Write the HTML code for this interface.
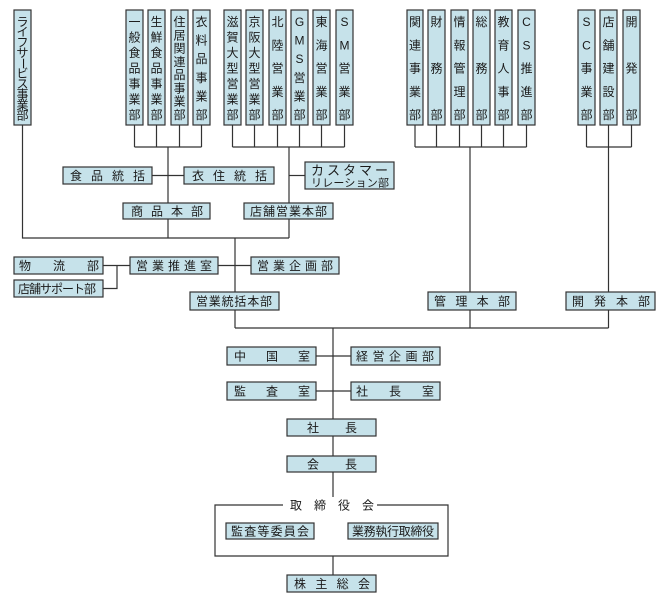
<!DOCTYPE html>
<html><head><meta charset="utf-8"><style>
html,body{margin:0;padding:0;background:#fff;}
svg{display:block;}
text{font-family:"Liberation Sans","Noto Sans CJK JP",sans-serif;font-size:12px;fill:#1a1a1a;}
.v text{text-anchor:middle;}
rect{fill:#c6e2ea;stroke:#333;stroke-width:1.2;}
line,polyline{stroke:#333;stroke-width:1.2;fill:none;}
</style></head><body>
<svg width="668" height="603" viewBox="0 0 668 603" xmlns="http://www.w3.org/2000/svg">
<polyline points="22.5,125 22.5,238 289,238"/>
<line x1="134.5" y1="125" x2="134.5" y2="147"/><line x1="156.5" y1="125" x2="156.5" y2="147"/>
<line x1="179.5" y1="125" x2="179.5" y2="147"/><line x1="201.5" y1="125" x2="201.5" y2="147"/>
<line x1="134.5" y1="147" x2="201.5" y2="147"/>
<line x1="168" y1="147" x2="168" y2="238"/>
<line x1="152" y1="175.5" x2="184" y2="175.5"/>
<line x1="232.5" y1="125" x2="232.5" y2="147"/><line x1="254.5" y1="125" x2="254.5" y2="147"/>
<line x1="277.5" y1="125" x2="277.5" y2="147"/><line x1="299.5" y1="125" x2="299.5" y2="147"/>
<line x1="321.5" y1="125" x2="321.5" y2="147"/><line x1="344.5" y1="125" x2="344.5" y2="147"/>
<line x1="232.5" y1="147" x2="344.5" y2="147"/>
<line x1="289" y1="147" x2="289" y2="238"/>
<line x1="289" y1="175.5" x2="305" y2="175.5"/>
<line x1="235" y1="238" x2="235" y2="328"/>
<line x1="218" y1="265.5" x2="251" y2="265.5"/>
<polyline points="103,265.5 130,265.5"/>
<polyline points="117,265.5 117,288.5 103,288.5"/>
<line x1="235" y1="328" x2="608.5" y2="328"/>
<line x1="415" y1="125" x2="415" y2="147"/><line x1="436.5" y1="125" x2="436.5" y2="147"/>
<line x1="459.5" y1="125" x2="459.5" y2="147"/><line x1="481.5" y1="125" x2="481.5" y2="147"/>
<line x1="503.5" y1="125" x2="503.5" y2="147"/><line x1="526.5" y1="125" x2="526.5" y2="147"/>
<line x1="415" y1="147" x2="526.5" y2="147"/>
<line x1="470" y1="147" x2="470" y2="328"/>
<line x1="586.5" y1="125" x2="586.5" y2="147"/><line x1="608.5" y1="125" x2="608.5" y2="147"/>
<line x1="631.5" y1="125" x2="631.5" y2="147"/>
<line x1="586.5" y1="147" x2="631.5" y2="147"/>
<line x1="608.5" y1="147" x2="608.5" y2="328"/>
<line x1="333" y1="328" x2="333" y2="497"/>
<line x1="316" y1="356" x2="351" y2="356"/>
<line x1="316" y1="391" x2="351" y2="391"/>
<polyline points="283,505 215,505 215,556 448,556 448,505 377,505"/>
<line x1="333" y1="556" x2="333" y2="575"/>

<g class="v">
<rect x="14" y="10" width="17" height="115"/>
<g style="font-size:10px">
<text x="22.5" y="26">ラ</text><text x="22.5" y="36">イ</text><text x="22.5" y="46.5">フ</text><text x="22.5" y="57">サ</text><text x="22.5" y="67" transform="rotate(90 22.5 63.5)">ー</text><text x="22.5" y="77.5">ビ</text><text x="22.5" y="88">ス</text><text x="22.5" y="98.5">事</text><text x="22.5" y="109">業</text><text x="22.5" y="119.5">部</text>
</g>
<rect x="126" y="10" width="17" height="115"/>
<text x="134.5" y="26">一</text><text x="134.5" y="41.5">般</text><text x="134.5" y="57">食</text><text x="134.5" y="72.5">品</text><text x="134.5" y="88">事</text><text x="134.5" y="103.5">業</text><text x="134.5" y="119">部</text>
<rect x="148" y="10" width="17" height="115"/>
<text x="156.5" y="26">生</text><text x="156.5" y="41.5">鮮</text><text x="156.5" y="57">食</text><text x="156.5" y="72.5">品</text><text x="156.5" y="88">事</text><text x="156.5" y="103.5">業</text><text x="156.5" y="119">部</text>
<rect x="171" y="10" width="17" height="115"/>
<text x="179.5" y="26">住</text><text x="179.5" y="39.3">居</text><text x="179.5" y="52.6">関</text><text x="179.5" y="65.9">連</text><text x="179.5" y="79.1">品</text><text x="179.5" y="92.4">事</text><text x="179.5" y="105.7">業</text><text x="179.5" y="119">部</text>
<rect x="193" y="10" width="17" height="115"/>
<text x="201.5" y="26">衣</text><text x="201.5" y="44.6">料</text><text x="201.5" y="63.2">品</text><text x="201.5" y="81.8">事</text><text x="201.5" y="100.4">業</text><text x="201.5" y="119">部</text>
<rect x="224" y="10" width="17" height="115"/>
<text x="232.5" y="26">滋</text><text x="232.5" y="41.5">賀</text><text x="232.5" y="57">大</text><text x="232.5" y="72.5">型</text><text x="232.5" y="88">営</text><text x="232.5" y="103.5">業</text><text x="232.5" y="119">部</text>
<rect x="246" y="10" width="17" height="115"/>
<text x="254.5" y="26">京</text><text x="254.5" y="41.5">阪</text><text x="254.5" y="57">大</text><text x="254.5" y="72.5">型</text><text x="254.5" y="88">営</text><text x="254.5" y="103.5">業</text><text x="254.5" y="119">部</text>
<rect x="269" y="10" width="17" height="115"/>
<text x="277.5" y="26">北</text><text x="277.5" y="49.3">陸</text><text x="277.5" y="72.5">営</text><text x="277.5" y="95.8">業</text><text x="277.5" y="119">部</text>
<rect x="291" y="10" width="17" height="115"/>
<text x="299.5" y="26">G</text><text x="299.5" y="44.6">M</text><text x="299.5" y="63.2">S</text><text x="299.5" y="81.8">営</text><text x="299.5" y="100.4">業</text><text x="299.5" y="119">部</text>
<rect x="313" y="10" width="17" height="115"/>
<text x="321.5" y="26">東</text><text x="321.5" y="49.3">海</text><text x="321.5" y="72.5">営</text><text x="321.5" y="95.8">業</text><text x="321.5" y="119">部</text>
<rect x="336" y="10" width="17" height="115"/>
<text x="344.5" y="26">S</text><text x="344.5" y="49.3">M</text><text x="344.5" y="72.5">営</text><text x="344.5" y="95.8">業</text><text x="344.5" y="119">部</text>

<rect x="407" y="10" width="16" height="115"/>
<text x="415" y="26">関</text><text x="415" y="49.3">連</text><text x="415" y="72.5">事</text><text x="415" y="95.8">業</text><text x="415" y="119">部</text>
<rect x="428" y="10" width="17" height="115"/>
<text x="436.5" y="26">財</text><text x="436.5" y="72.5">務</text><text x="436.5" y="119">部</text>
<rect x="451" y="10" width="17" height="115"/>
<text x="459.5" y="26">情</text><text x="459.5" y="49.3">報</text><text x="459.5" y="72.5">管</text><text x="459.5" y="95.8">理</text><text x="459.5" y="119">部</text>
<rect x="473" y="10" width="17" height="115"/>
<text x="481.5" y="26">総</text><text x="481.5" y="72.5">務</text><text x="481.5" y="119">部</text>
<rect x="495" y="10" width="17" height="115"/>
<text x="503.5" y="26">教</text><text x="503.5" y="49.3">育</text><text x="503.5" y="72.5">人</text><text x="503.5" y="95.8">事</text><text x="503.5" y="119">部</text>
<rect x="518" y="10" width="17" height="115"/>
<text x="526.5" y="26">C</text><text x="526.5" y="49.3">S</text><text x="526.5" y="72.5">推</text><text x="526.5" y="95.8">進</text><text x="526.5" y="119">部</text>

<rect x="578" y="10" width="17" height="115"/>
<text x="586.5" y="26">S</text><text x="586.5" y="49.3">C</text><text x="586.5" y="72.5">事</text><text x="586.5" y="95.8">業</text><text x="586.5" y="119">部</text>
<rect x="600" y="10" width="17" height="115"/>
<text x="608.5" y="26">店</text><text x="608.5" y="49.3">舗</text><text x="608.5" y="72.5">建</text><text x="608.5" y="95.8">設</text><text x="608.5" y="119">部</text>
<rect x="623" y="10" width="17" height="115"/>
<text x="631.5" y="26">開</text><text x="631.5" y="72.5">発</text><text x="631.5" y="119">部</text>
</g>

<rect x="63" y="167" width="89" height="17"/><text x="70" y="180" textLength="75" lengthAdjust="spacing">食品統括</text>
<rect x="184" y="167" width="90" height="17"/><text x="192" y="180" textLength="75" lengthAdjust="spacing">衣住統括</text>
<rect x="305" y="162" width="89" height="27"/>
<text x="311" y="175" textLength="77" lengthAdjust="spacing" style="font-size:13px">カスタマー</text>
<text x="311" y="186.5" textLength="78" lengthAdjust="spacing" style="font-size:11px">リレーション部</text>
<rect x="123" y="203" width="87" height="16"/><text x="131" y="215.5" textLength="72" lengthAdjust="spacing">商品本部</text>
<rect x="244" y="203" width="89" height="16"/><text x="250" y="215.5" textLength="77" lengthAdjust="spacing">店舗営業本部</text>
<rect x="14" y="257" width="89" height="17"/><text x="19" y="270" textLength="80" lengthAdjust="spacing">物流部</text>
<rect x="14" y="280" width="89" height="17"/><text x="18" y="293" textLength="78" lengthAdjust="spacing">店舗サポート部</text>
<rect x="130" y="257" width="88" height="17"/><text x="136" y="270" textLength="76" lengthAdjust="spacing">営業推進室</text>
<rect x="251" y="257" width="88" height="17"/><text x="257" y="270" textLength="76" lengthAdjust="spacing">営業企画部</text>
<rect x="190" y="292" width="89" height="18"/><text x="196" y="305.5" textLength="76" lengthAdjust="spacing">営業統括本部</text>
<rect x="428" y="292" width="88" height="18"/><text x="434" y="305.5" textLength="76" lengthAdjust="spacing">管理本部</text>
<rect x="566" y="292" width="89" height="18"/><text x="572" y="305.5" textLength="78" lengthAdjust="spacing">開発本部</text>
<rect x="227" y="347" width="89" height="18"/><text x="234" y="360.5" textLength="76" lengthAdjust="spacing">中国室</text>
<rect x="351" y="347" width="89" height="18"/><text x="356" y="360.5" textLength="78" lengthAdjust="spacing">経営企画部</text>
<rect x="227" y="382" width="89" height="18"/><text x="234" y="395.5" textLength="76" lengthAdjust="spacing">監査室</text>
<rect x="351" y="382" width="89" height="18"/><text x="356" y="395.5" textLength="78" lengthAdjust="spacing">社長室</text>
<rect x="287" y="419" width="89" height="17"/><text x="307" y="432" textLength="50" lengthAdjust="spacing">社長</text>
<rect x="287" y="456" width="89" height="16"/><text x="307" y="468.5" textLength="50" lengthAdjust="spacing">会長</text>
<text x="290" y="509.5" textLength="84" lengthAdjust="spacing">取締役会</text>
<rect x="226" y="523" width="88" height="16"/><text x="231" y="535.5" textLength="78" lengthAdjust="spacing">監査等委員会</text>
<rect x="348" y="523" width="90" height="16"/><text x="352" y="535.5" textLength="82" lengthAdjust="spacing">業務執行取締役</text>
<rect x="287" y="575" width="89" height="17"/><text x="294" y="588" textLength="76" lengthAdjust="spacing">株主総会</text>
</svg>
</body></html>
